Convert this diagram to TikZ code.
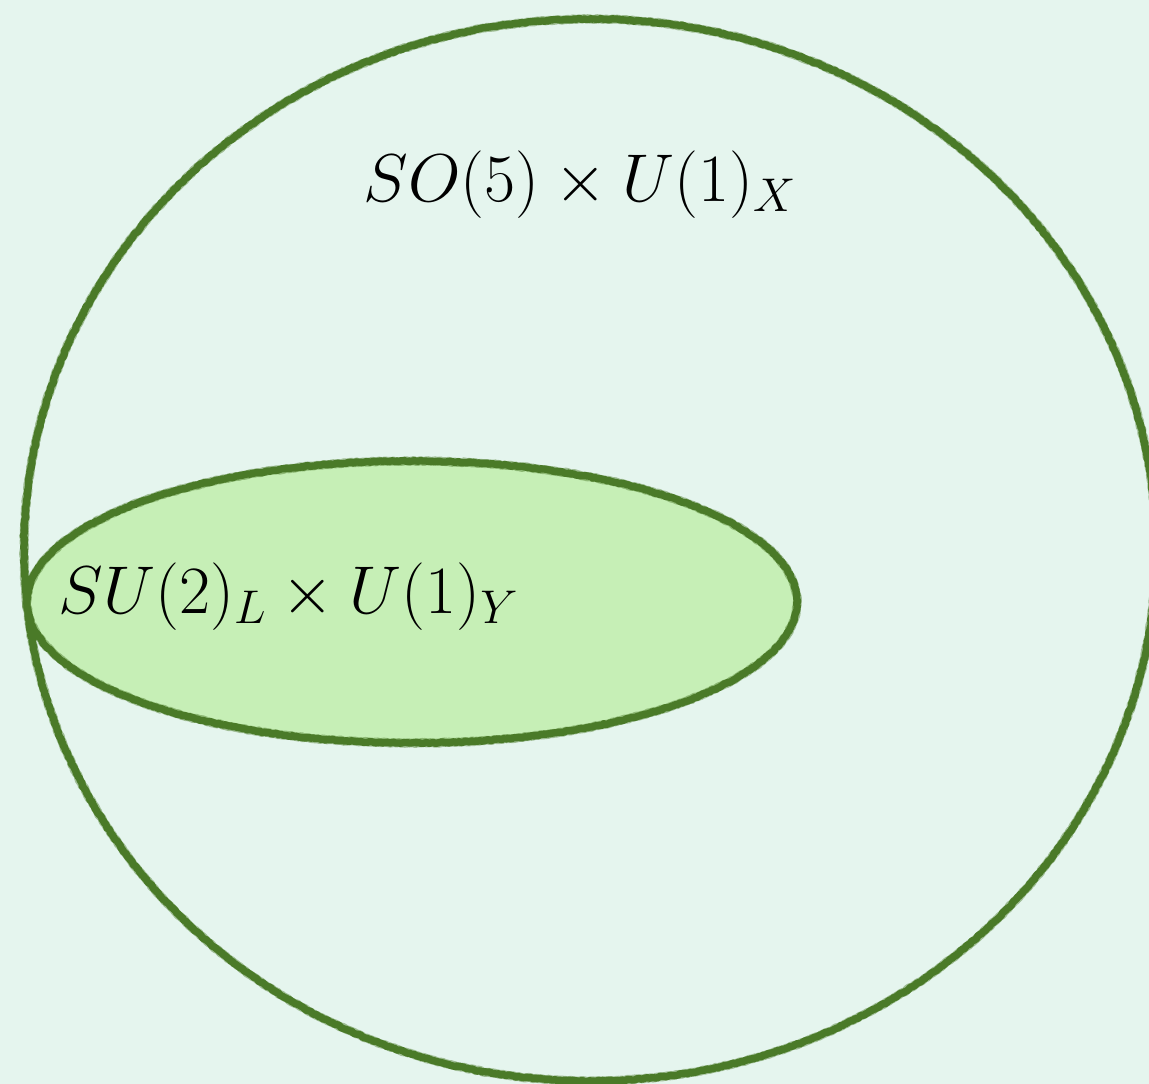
\RequirePackage{fix-cm}
\documentclass[tikz,border=0pt]{standalone}
\usetikzlibrary{decorations.pathmorphing}
\definecolor{bgmint}{HTML}{E5F5EE}
\definecolor{rimgreen}{HTML}{4A7A28}
\definecolor{innergreen}{HTML}{C6EFB6}
\tikzset{
  pencil/.style={draw=rimgreen,line width=2.9pt,line join=round,line cap=round,
    decorate,decoration={random steps,segment length=0.8pt,amplitude=0.25pt}},
  grouplabel/.style={anchor=base west,inner sep=0pt,font=\fontsize{26.8}{32}\selectfont}
}
\begin{document}
\begin{tikzpicture}[x=0.013925cm,y=-0.013925cm]
	\def \W{1149}
	\def \H{1084}
	\fill[bgmint] (0,0) rectangle (\W,\H);
	\useasboundingbox (0,0) rectangle (\W,\H);
	\begin{scope}
	\clip (0,0) rectangle (\W,\H);
	% outer group
	\draw[pencil] (590,550) ellipse [x radius=566,y radius=531];
	\draw[pencil,draw opacity=0.45,line width=3.5pt] (590,550) ellipse [x radius=566,y radius=531];
	% inner group
	\fill[innergreen] (412,602) ellipse [x radius=385,y radius=141];
	\draw[pencil] (412,602) ellipse [x radius=385,y radius=141];
	\draw[pencil,draw opacity=0.45,line width=3.5pt] (412,602) ellipse [x radius=385,y radius=141];
	\end{scope}
	\node[grouplabel] (so5) at (363,201) {$SO(5)\times U(1)_X$};
	\node[grouplabel] (su2) at (58,613) {$SU(2)_L\times U(1)_Y$};
\end{tikzpicture}
\end{document}
